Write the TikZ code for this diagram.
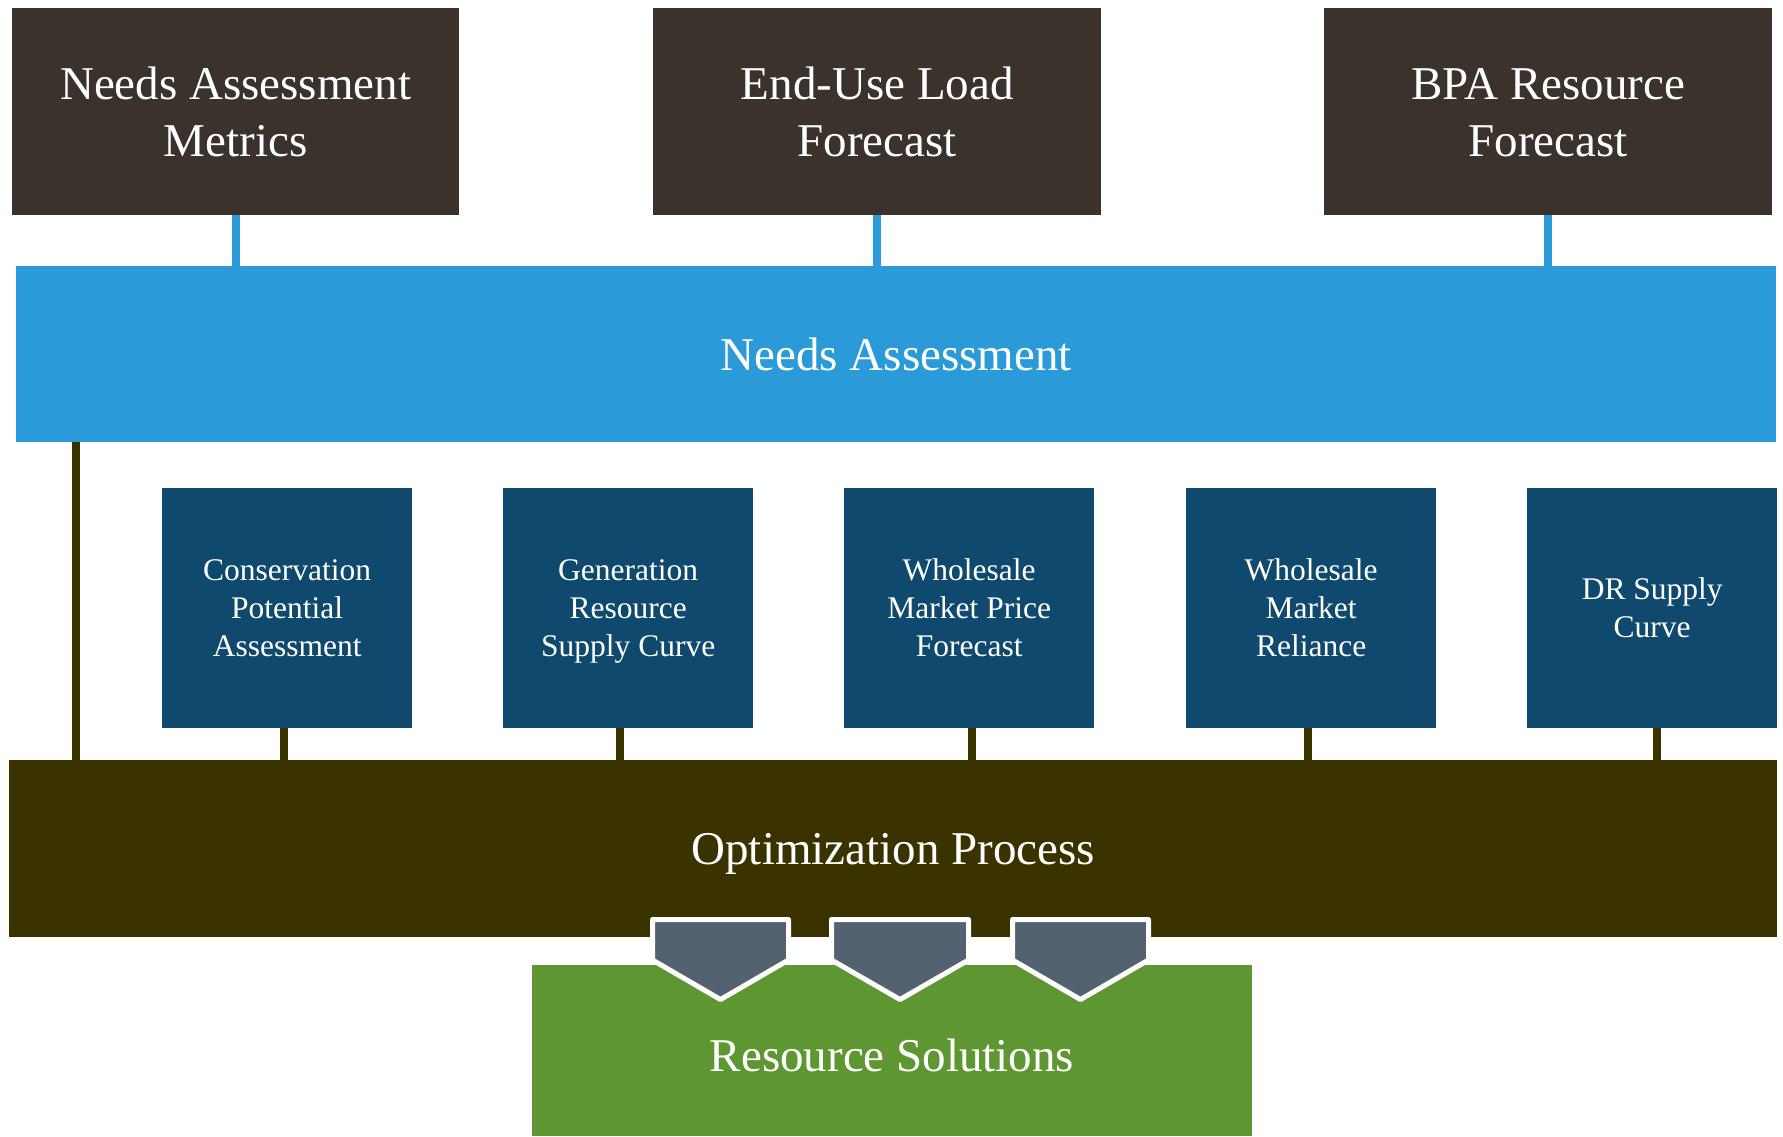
\documentclass[tikz,border=0pt]{standalone}
\usepackage{fontspec}
\setmainfont{Liberation Serif}
\definecolor{topbox}{HTML}{3B322C}
\definecolor{needblue}{HTML}{2A9BD8}
\definecolor{navy}{HTML}{0F4A6E}
\definecolor{olive}{HTML}{3A3300}
\definecolor{leaf}{HTML}{5E9732}
\definecolor{slate}{HTML}{536270}
\newcommand\ls{\rule[-0.216em]{0pt}{1.107em}}
\tikzset{
  bigbox/.style={fill=#1, draw=none, inner sep=0pt, anchor=north west, text=white, align=center,
    font=\fontsize{47}{57}\selectfont},
  midbox/.style={fill=navy, draw=none, inner sep=0pt, anchor=north west, text=white, align=center,
    minimum width=250pt, minimum height=240pt, font=\fontsize{31.5}{38}\selectfont},
  blueline/.style={draw=needblue, line width=8pt},
  oliveline/.style={draw=olive, line width=8pt},
  chev/.style={fill=slate, draw=white, line width=5pt, line join=round}
}
\begin{document}
\begin{tikzpicture}[x=1pt,y=-1pt]
\useasboundingbox (0,0) rectangle (1783,1136);
% top boxes
\node[bigbox=topbox, minimum width=447pt, minimum height=207pt] (t1) at (12,8) {\ls Needs Assessment\\\ls Metrics};
\node[bigbox=topbox, minimum width=448pt, minimum height=207pt] (t2) at (653,8) {\ls End-Use Load\\\ls Forecast};
\node[bigbox=topbox, minimum width=448pt, minimum height=207pt] (t3) at (1324,8) {\ls BPA Resource\\\ls Forecast};
% needs assessment bar
\node[bigbox=needblue, minimum width=1760pt, minimum height=176pt] (need) at (16,266) {\ls Needs Assessment};
% optimization bar
\node[bigbox=olive, minimum width=1768pt, minimum height=177pt] (opt) at (9,760) {\ls Optimization Process};
% middle boxes
\node[midbox] (m1) at (162,488) {\ls Conservation\\\ls Potential\\\ls Assessment};
\node[midbox] (m2) at (503,488) {\ls Generation\\\ls Resource\\\ls Supply Curve};
\node[midbox] (m3) at (844,488) {\ls Wholesale\\\ls Market Price\\\ls Forecast};
\node[midbox] (m4) at (1186,488) {\ls Wholesale\\\ls Market\\\ls Reliance};
\node[midbox] (m5) at (1527,488) {\ls DR Supply\\\ls Curve};
% green box
\node[fill=leaf, inner sep=0pt, anchor=north west, minimum width=720pt, minimum height=171pt] (res) at (532,965) {};
\node[text=white, font=\fontsize{47}{57}\selectfont, inner sep=0pt] (restext) at (892,1055) {Resource Solutions};
% connectors
\draw[blueline] (t1.south) -- (t1.south |- need.north);
\draw[blueline] (t2.south) -- (t2.south |- need.north);
\draw[blueline] (t3.south) -- (t3.south |- need.north);
\draw[oliveline] ([xshift=60pt]need.south west) -- ([xshift=60pt]need.south west |- opt.north);
\draw[oliveline] ([xshift=-3pt]m1.south) -- ([xshift=-3pt]m1.south |- opt.north);
\draw[oliveline] ([xshift=-8pt]m2.south) -- ([xshift=-8pt]m2.south |- opt.north);
\draw[oliveline] ([xshift=3pt]m3.south) -- ([xshift=3pt]m3.south |- opt.north);
\draw[oliveline] ([xshift=-3pt]m4.south) -- ([xshift=-3pt]m4.south |- opt.north);
\draw[oliveline] ([xshift=5pt]m5.south) -- ([xshift=5pt]m5.south |- opt.north);
% chevrons
\draw[chev] (652.5,919.5) -- (788.5,919.5) -- (788.5,960) -- (720.5,999.5) -- (652.5,960) -- cycle;
\draw[chev] (831.5,919.5) -- (968.5,919.5) -- (968.5,960) -- (900,999.5) -- (831.5,960) -- cycle;
\draw[chev] (1012.5,919.5) -- (1148.5,919.5) -- (1148.5,960) -- (1080.5,999.5) -- (1012.5,960) -- cycle;
\end{tikzpicture}
\end{document}
